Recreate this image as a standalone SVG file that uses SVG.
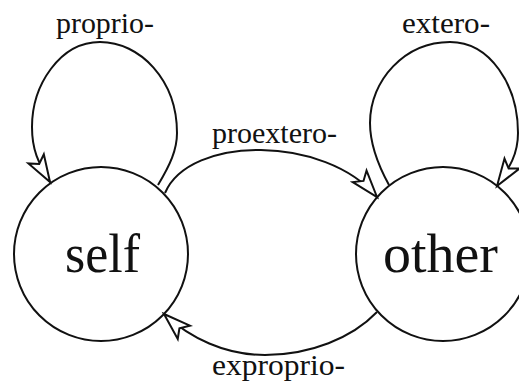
<svg xmlns="http://www.w3.org/2000/svg" width="519" height="383" viewBox="0 0 519 383">
<style>
.node{fill:none;stroke:#111;stroke-width:2}
.edge{fill:none;stroke:#111;stroke-width:2;marker-end:url(#arr)}
.big{font-family:"Liberation Serif","Times New Roman",serif;font-size:54px;fill:#111}
.lbl{font-family:"Liberation Serif","Times New Roman",serif;font-size:30px;fill:#111}
</style>
<defs>
<marker id="arr" markerUnits="userSpaceOnUse" markerWidth="40" markerHeight="30" viewBox="-30 -15 40 30" refX="0" refY="0" orient="auto">
<path d="M0,0 L-27,-9 L-21,0 L-27,9 Z" fill="#fff" stroke="#111" stroke-width="2" stroke-linejoin="miter"/>
</marker>
</defs>
<rect width="519" height="383" fill="#fff"/>
<g id="edges">
<path id="e-proprio" class="edge" d="M158,185 C170,165 177,150 177,133 C177,80 140,42 100,42 C60,42 32,85 32,127 C32,150 38,162 50,182"/>
<path id="e-extero" class="edge" d="M389,185 C378,165 370,145 370,123 C370,80 405,42 450,42 C490,42 518,85 518,133 C518,155 509,168 497,186"/>
<path id="e-proextero" class="edge" d="M165,193 C190,135 325,135 377,197"/>
<path id="e-exproprio" class="edge" d="M377,312 C352,338 310,355 265,355 C225,355 190,338 164,314"/>
<text class="lbl" x="56" y="33" textLength="98" lengthAdjust="spacingAndGlyphs">proprio-</text>
<text class="lbl" x="402" y="33" textLength="88" lengthAdjust="spacingAndGlyphs">extero-</text>
<text class="lbl" x="212" y="143" textLength="125" lengthAdjust="spacingAndGlyphs">proextero-</text>
<text class="lbl" x="212" y="375" textLength="133" lengthAdjust="spacingAndGlyphs">exproprio-</text>
</g>
<g id="self">
<circle class="node" cx="101" cy="254" r="87"/>
<text class="big" x="65" y="272" textLength="75" lengthAdjust="spacingAndGlyphs">self</text>
</g>
<g id="other">
<circle class="node" cx="443" cy="254" r="87"/>
<text class="big" x="383" y="272" textLength="115" lengthAdjust="spacingAndGlyphs">other</text>
</g>
</svg>
